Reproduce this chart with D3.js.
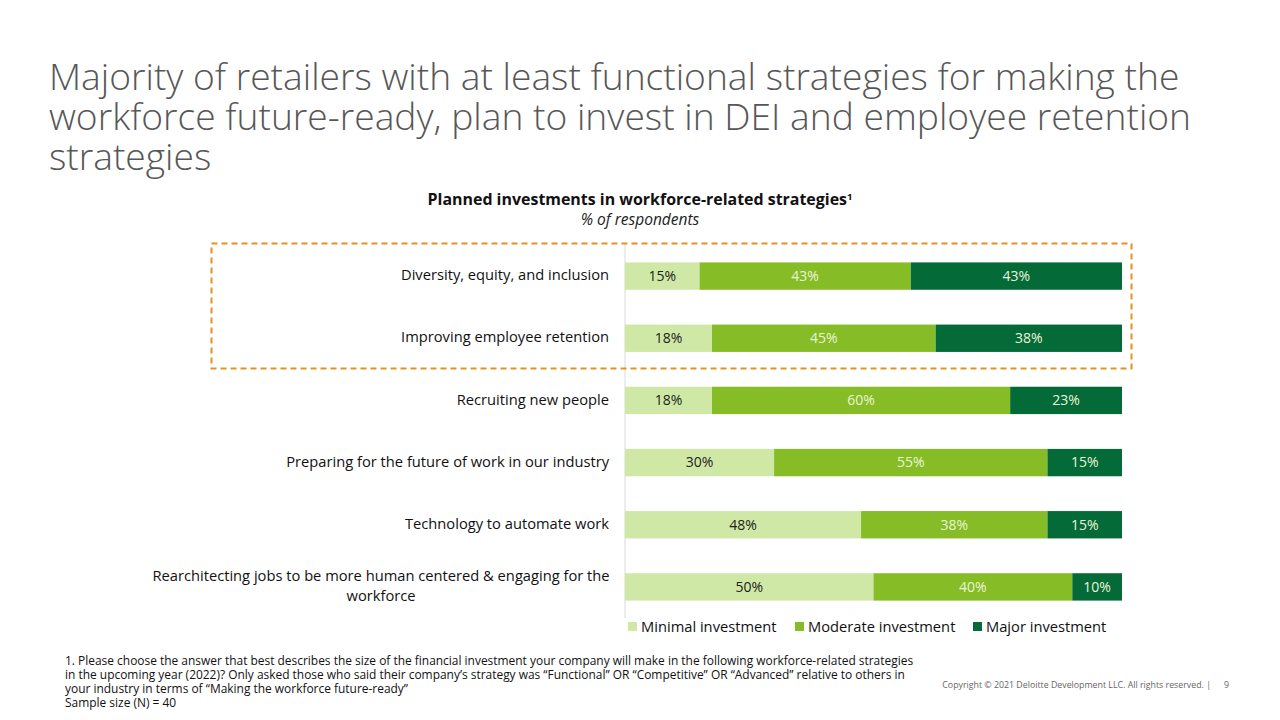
<!DOCTYPE html>
<html>
<head>
<meta charset="utf-8">
<script src="https://cdn.jsdelivr.net/npm/d3@7"></script>
<style>
  body { margin: 0; background: #fff; }
  svg { font-family: "Open Sans", sans-serif; display: block; }
</style>
</head>
<body>
<svg width="1280" height="720"></svg>
<script>
// data (N = 40, so shares are steps of 2.5%; labels are rounded)
var categories = [
    "Diversity, equity, and inclusion",
    "Improving employee retention",
    "Recruiting new people",
    "Preparing for the future of work in our industry",
    "Technology to automate work",
    "Rearchitecting jobs to be more human centered & engaging for the workforce"
];
var minimal = [15, 17.5, 17.5, 30, 47.5, 50];
var moderate = [42.5, 45, 60, 55, 37.5, 40];
var major = [42.5, 37.5, 22.5, 15, 15, 10];
var seriesNames = ["Minimal investment", "Moderate investment", "Major investment"];
var colors = ["#d0e8a6", "#86bc25", "#046a38"];
var labelColors = ["#222", "#eaf5d8", "#eaf5d8"];

var titleLines = [
    "Majority of retailers with at least functional strategies for making the",
    "workforce future-ready, plan to invest in DEI and employee retention",
    "strategies"
];
var footnotes = [
    "1. Please choose the answer that best describes the size of the financial investment your company will make in the following workforce-related strategies",
    "in the upcoming year (2022)? Only asked those who said their company\u2019s strategy was \u201cFunctional\u201d OR \u201cCompetitive\u201d OR \u201cAdvanced\u201d relative to others in",
    "your industry in terms of \u201cMaking the workforce future-ready\u201d",
    "Sample size (N) = 40"
];

var svg = d3.select("svg");

// slide title
svg.append("g").selectAll("text")
    .data(titleLines)
    .enter().append("text")
    .attr("x", 49)
    .attr("y", function (d, i) { return 90 + i * 40; })
    .attr("font-size", 37.2)
    .attr("font-weight", 300)
    .attr("fill", "#575757")
    .text(function (d) { return d; });

// chart title
var ct = svg.append("text")
    .attr("x", 640).attr("y", 205)
    .attr("text-anchor", "middle")
    .attr("font-size", 15.8)
    .attr("font-weight", 700)
    .attr("fill", "#111")
    .attr("textLength", 425)
    .attr("lengthAdjust", "spacingAndGlyphs");
ct.append("tspan").text("Planned investments in workforce-related strategies");
ct.append("tspan").attr("font-size", 9.5).attr("dy", -5).text("1");

svg.append("text")
    .attr("x", 640).attr("y", 225)
    .attr("text-anchor", "middle")
    .attr("font-size", 15.5)
    .attr("font-style", "italic")
    .attr("fill", "#222")
    .text("% of respondents");

// scales
var x = d3.scaleLinear().domain([0, 100]).range([625, 1122]);
var y = d3.scaleBand().domain(categories).range([245, 618]).paddingInner(0.56).paddingOuter(0.28);

// stacked data
var rows = categories.map(function (c, i) {
    return {cat: c, values: [minimal[i], moderate[i], major[i]]};
});
var segs = [];
rows.forEach(function (r) {
    var start = 0;
    r.values.forEach(function (v, k) {
        segs.push({cat: r.cat, k: k, x0: start, x1: start + v, v: v});
        start += v;
    });
});

// vertical axis line
svg.append("line")
    .attr("x1", x(0)).attr("x2", x(0))
    .attr("y1", 243).attr("y2", 618)
    .attr("stroke", "#d9d9d9").attr("stroke-width", 1);

// highlight box
svg.append("rect")
    .attr("x", 211.5).attr("y", 243.5)
    .attr("width", 920).attr("height", 125)
    .attr("fill", "none")
    .attr("stroke", "#e8921e")
    .attr("stroke-width", 2)
    .attr("stroke-dasharray", "6,4");

// bars
var seg = svg.append("g").selectAll("g")
    .data(segs)
    .enter().append("g");

seg.append("rect")
    .attr("x", function (d) { return x(d.x0); })
    .attr("y", function (d) { return y(d.cat); })
    .attr("width", function (d) { return x(d.x1) - x(d.x0); })
    .attr("height", y.bandwidth())
    .attr("fill", function (d) { return colors[d.k]; });

seg.append("text")
    .attr("x", function (d) { return (x(d.x0) + x(d.x1)) / 2; })
    .attr("y", function (d) { return y(d.cat) + y.bandwidth() / 2; })
    .attr("dy", ".35em")
    .attr("text-anchor", "middle")
    .attr("font-size", 14)
    .attr("fill", function (d) { return labelColors[d.k]; })
    .text(function (d) { return Math.round(d.v) + "%"; });

// category labels
var lab = svg.append("g").selectAll("text")
    .data(categories)
    .enter().append("text")
    .attr("font-size", 14.7)
    .attr("fill", "#111");

lab.each(function (d) {
    var t = d3.select(this);
    var cy = y(d) + y.bandwidth() / 2;
    if (d.length > 60) {
        var cut = d.lastIndexOf(" ", d.length - 10);
        t.attr("text-anchor", "middle");
        t.append("tspan").attr("x", 381).attr("y", cy - 11).attr("dy", ".35em").text(d.slice(0, cut));
        t.append("tspan").attr("x", 381).attr("y", cy + 9).attr("dy", ".35em").text(d.slice(cut + 1));
    } else {
        t.attr("text-anchor", "end")
            .attr("x", 609).attr("y", cy - 1).attr("dy", ".35em")
            .text(d);
    }
});

// legend
var legendX = [628, 795, 973];
var leg = svg.append("g").selectAll("g")
    .data(seriesNames)
    .enter().append("g")
    .attr("transform", function (d, i) { return "translate(" + legendX[i] + ",622)"; });

leg.append("rect")
    .attr("width", 9).attr("height", 9)
    .attr("fill", function (d, i) { return colors[i]; });

leg.append("text")
    .attr("x", 13).attr("y", 5)
    .attr("dy", ".35em")
    .attr("font-size", 14.7)
    .attr("fill", "#111")
    .text(function (d) { return d; });

// footnotes
svg.append("g").selectAll("text")
    .data(footnotes)
    .enter().append("text")
    .attr("x", 65)
    .attr("y", function (d, i) { return 665 + i * 14; })
    .attr("font-size", 11.95)
    .attr("fill", "#111")
    .text(function (d) { return d; });

svg.append("text")
    .attr("x", 1211).attr("y", 688)
    .attr("text-anchor", "end")
    .attr("font-size", 8.8)
    .attr("fill", "#666")
    .text("Copyright \u00a9 2021 Deloitte Development LLC. All rights reserved.  |");

svg.append("text")
    .attr("x", 1229).attr("y", 688)
    .attr("text-anchor", "end")
    .attr("font-size", 8.8)
    .attr("fill", "#666")
    .text("9");
</script>
</body>
</html>
